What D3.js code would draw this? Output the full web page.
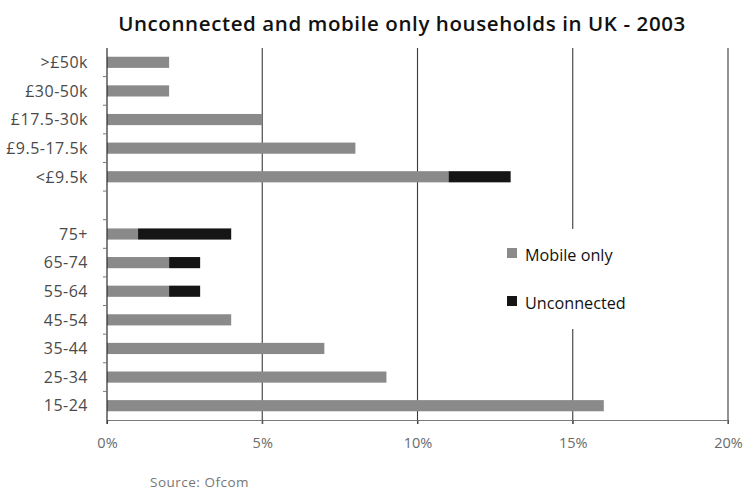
<!DOCTYPE html>
<html>
<head>
<meta charset="utf-8">
<script src="https://cdn.jsdelivr.net/npm/d3@7"></script>
<style>
  html, body { margin: 0; padding: 0; background: #fff; }
  svg { display: block; }
</style>
</head>
<body>
<svg id="chart" width="746" height="492"></svg>
<script>
// Categories top to bottom; the empty entry is a spacer row between the income and age groups.
const categories = [">£50k", "£30-50k", "£17.5-30k", "£9.5-17.5k", "<£9.5k", "",
                    "75+", "65-74", "55-64", "45-54", "35-44", "25-34", "15-24"];
// Share of households (%)
const mobileOnly  = [2, 2, 5, 8, 11, null, 1, 2, 2, 4, 7, 9, 16];
const unconnected = [0, 0, 0, 0, 2, null, 3, 1, 1, 0, 0, 0, 0];
const xTicks = [0, 5, 10, 15, 20];
const seriesNames = ["Mobile only", "Unconnected"];
const seriesColors = ["#8a8a8a", "#151515"];

const svg = d3.select("#chart");
const font = "'Open Sans', 'Liberation Sans', sans-serif";

const margin = { left: 107, right: 18, top: 48, bottom: 72 };
const W = 746, H = 492;

const x = d3.scaleLinear().domain([0, 20]).range([margin.left, W - margin.right]);
const y = d3.scaleBand().domain(categories).range([margin.top, H - margin.bottom])
  .paddingInner(0.61).paddingOuter(0.305);

// Title
svg.append("text")
  .attr("x", 402).attr("y", 31)
  .attr("text-anchor", "middle")
  .attr("font-family", font).attr("font-weight", 600)
  .attr("font-size", 20.5).attr("letter-spacing", 0.6).attr("fill", "#111")
  .text("Unconnected and mobile only households in UK - 2003");

// Vertical gridlines
svg.append("g").selectAll("line")
  .data(xTicks.filter(d => d > 0))
  .join("line")
  .attr("x1", d => x(d)).attr("x2", d => x(d))
  .attr("y1", margin.top).attr("y2", H - margin.bottom + 4)
  .attr("stroke", "#3a3a3a").attr("stroke-width", 1.1);

// Bottom axis
const xAxis = svg.append("g")
  .attr("transform", `translate(0,${H - margin.bottom})`)
  .call(d3.axisBottom(x).tickValues(xTicks).tickSize(4).tickPadding(14)
    .tickFormat(d => d + "%"));
xAxis.select(".domain").attr("stroke", "#7a7a7a");
xAxis.selectAll(".tick line").attr("stroke", "#555");
xAxis.selectAll("text")
  .attr("font-family", font).attr("font-size", 14.5).attr("fill", "#6a6a6a");

// Stacked bars
const rows = categories.map((c, i) => ({ c, m: mobileOnly[i], u: unconnected[i] }))
  .filter(d => d.m !== null);

svg.append("g").selectAll("rect")
  .data(rows)
  .join("rect")
  .attr("x", x(0))
  .attr("y", d => y(d.c))
  .attr("width", d => x(d.m) - x(0))
  .attr("height", y.bandwidth())
  .attr("fill", seriesColors[0]);

svg.append("g").selectAll("rect")
  .data(rows.filter(d => d.u > 0))
  .join("rect")
  .attr("x", d => x(d.m))
  .attr("y", d => y(d.c))
  .attr("width", d => x(d.m + d.u) - x(d.m))
  .attr("height", y.bandwidth())
  .attr("fill", seriesColors[1]);

// Left axis with tick marks between rows
const yAxisG = svg.append("g");
yAxisG.append("line")
  .attr("x1", x(0)).attr("x2", x(0))
  .attr("y1", margin.top).attr("y2", H - margin.bottom + 4)
  .attr("stroke", "#2a2a2a").attr("stroke-width", 1.2);
yAxisG.selectAll("line.tk")
  .data(categories.slice(1))
  .join("line").attr("class", "tk")
  .attr("x1", x(0) - 4).attr("x2", x(0))
  .attr("y1", d => y(d) - y.step() * y.paddingInner() / 2)
  .attr("y2", d => y(d) - y.step() * y.paddingInner() / 2)
  .attr("stroke", "#777");
yAxisG.selectAll("text")
  .data(categories.filter(c => c !== ""))
  .join("text")
  .attr("x", 88)
  .attr("y", d => y(d) + y.bandwidth() / 2)
  .attr("dy", "0.36em")
  .attr("text-anchor", "end")
  .attr("font-family", font).attr("font-size", 16).attr("letter-spacing", 0.5)
  .attr("fill", "#4a4a4a")
  .text(d => d);

// Legend
const legend = svg.append("g");
legend.append("rect")
  .attr("x", 497).attr("y", 229).attr("width", 140).attr("height", 100)
  .attr("fill", "#fff");
const items = legend.selectAll("g.item")
  .data(seriesNames)
  .join("g").attr("class", "item")
  .attr("transform", (d, i) => `translate(507,${248 + i * 48})`);
items.append("rect")
  .attr("width", 10).attr("height", 10)
  .attr("fill", (d, i) => seriesColors[i]);
items.append("text")
  .attr("x", 18).attr("y", 13)
  .attr("font-family", font).attr("font-size", 16.2).attr("fill", "#111")
  .text(d => d);

// Source note
svg.append("text")
  .attr("x", 150).attr("y", 487)
  .attr("font-family", font).attr("font-size", 13.5).attr("letter-spacing", 0.5)
  .attr("fill", "#777")
  .text("Source: Ofcom");
</script>
</body>
</html>
